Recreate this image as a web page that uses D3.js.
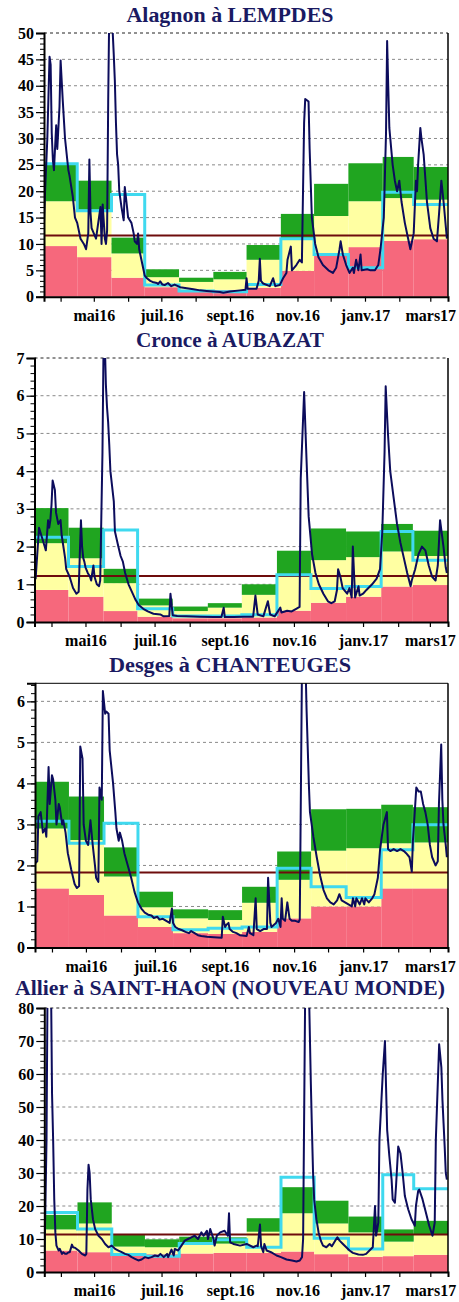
<!DOCTYPE html>
<html><head><meta charset="utf-8">
<script src="https://cdn.jsdelivr.net/npm/d3@7"></script>
<style>body{margin:0;background:#fff}svg{display:block}</style>
</head><body>
<svg id="c" width="459" height="1302"></svg>
<script>
// ---------- DATA ----------
const startDate = "2016-04-01";
const endDate = "2017-04-01";
const months = ["2016-04","2016-05","2016-06","2016-07","2016-08","2016-09","2016-10","2016-11","2016-12","2017-01","2017-02","2017-03"];
const xTickDates = ["2016-04-16","2016-05-16","2016-06-16","2016-07-16","2016-08-16","2016-09-16","2016-10-16","2016-11-16","2016-12-16","2017-01-16","2017-02-16","2017-03-16"];
const xTickLabels = ["","mai16","","juil.16","","sept.16","","nov.16","","janv.17","","mars17"];

const stationNames = ["Alagnon à LEMPDES","Cronce à AUBAZAT","Desges à CHANTEUGES","Allier à SAINT-HAON (NOUVEAU MONDE)"];

// Monthly reference bands (red top, yellow top = green bottom, green top), monthly mean (cyan), threshold
const alagnonRed    = [9.6, 7.5, 3.6, 1.8, 1.3, 1.3, 1.7, 4.9, 7.8, 9.4, 10.6, 10.9];
const alagnonYellow = [18.1, 16.5, 8.2, 3.7, 2.8, 3.3, 7.0, 11.0, 15.3, 18.1, 18.7, 18.4];
const alagnonGreen  = [25.0, 22.0, 11.2, 5.2, 3.6, 4.7, 9.8, 15.7, 21.4, 25.3, 26.5, 24.6];
const alagnonMean   = [25.2, 16.3, 19.4, 2.2, 1.1, 0.95, 2.3, 11.0, 8.0, 5.5, 19.8, 17.5];
const alagnonThreshold = 11.6;

const cronceRed    = [0.85, 0.67, 0.29, 0.14, 0.10, 0.10, 0.12, 0.30, 0.51, 0.67, 0.94, 0.98];
const cronceYellow = [2.09, 1.69, 1.03, 0.44, 0.29, 0.38, 0.72, 1.27, 1.64, 1.72, 1.87, 1.75];
const cronceGreen  = [3.02, 2.50, 1.41, 0.62, 0.41, 0.50, 1.00, 1.89, 2.48, 2.40, 2.60, 2.42];
const cronceMean   = [2.25, 1.47, 2.44, 0.35, 0.16, 0.16, 0.19, 1.25, 0.89, 0.94, 2.40, 1.64];
const cronceThreshold = 1.22;

const desgesRed    = [1.44, 1.28, 0.78, 0.50, 0.35, 0.33, 0.38, 0.71, 1.00, 1.00, 1.44, 1.44];
const desgesYellow = [2.90, 2.62, 1.73, 0.98, 0.71, 0.67, 1.09, 1.65, 2.36, 2.42, 2.54, 2.56];
const desgesGreen  = [4.04, 3.68, 2.44, 1.36, 0.93, 0.91, 1.48, 2.34, 3.37, 3.38, 3.48, 3.42];
const desgesMean   = [3.08, 2.54, 3.03, 0.75, 0.43, 0.47, 0.50, 1.93, 1.48, 1.22, 2.38, 2.99];
const desgesThreshold = 1.83;

const allierRed    = [6.5, 6.0, 5.6, 5.4, 5.6, 5.8, 5.8, 6.2, 5.4, 4.6, 4.8, 5.2];
const allierYellow = [12.9, 14.7, 7.7, 7.5, 9.0, 8.6, 12.2, 17.8, 14.7, 12.0, 9.2, 11.5];
const allierGreen  = [17.3, 21.1, 11.2, 9.9, 10.7, 10.5, 16.3, 25.7, 21.6, 16.8, 12.9, 15.5];
const allierMean   = [18.0, 13.0, 5.3, 4.8, 8.6, 9.8, 7.5, 28.7, 10.2, 7.0, 29.5, 25.2];
const allierThreshold = 11.4;

// Daily flow: [days since 1 April 2016, m3/s]
const alagnonDaily = [[0,14],[1,20],[3,30],[5,45.5],[6,44],[7,31],[8,26],[9,24],[11,32.5],[12,28],[14,36],[15,44.8],[17,37],[19,30],[22,24],[23,23],[26,19],[28,15],[30,14],[33,11],[36,10],[38,9],[40,12],[41,26],[42,16],[43,13],[45,12],[47,11],[49,14],[51,17],[52,10],[53,17.5],[55,11],[56,10],[57,12.5],[58,37],[59,55],[61,55],[63,46],[64,41],[65,33],[66,27],[67,25],[68,20],[70,17],[72,14.5],[73,20.8],[75,17],[76,15],[79,14],[81,12],[82,10.5],[84,10],[85,12],[86,9],[88,7],[90,5],[91,4],[93,3.5],[96,3],[98,2.8],[102,2.6],[103,2.4],[105,2.9],[107,2.3],[109,2.2],[112,2.6],[115,2.0],[118,2.3],[123,1.8],[129,1.6],[135,1.4],[141,1.2],[147,1.1],[153,1.0],[159,0.9],[162,0.75],[168,1.0],[177,1.2],[182,1.3],[183,3.5],[184,1.5],[192,1.5],[194,3],[195,7.2],[196,3],[198,2.5],[204,2.0],[207,3.5],[209,2.0],[213,2.2],[216,3.5],[219,4.5],[220,7],[223,9.5],[224,5],[228,6.0],[231,7.0],[233,6.5],[235,33],[236,37.5],[239,37],[240,28],[242,15],[245,10],[248,7.5],[252,6.0],[257,5.0],[261,4.5],[264,5.5],[267,9.0],[268,10.5],[270,8],[273,6],[276,4.5],[279,5.5],[280,4.5],[282,7],[284,5],[286,8],[287,5],[292,5.2],[295,5],[299,5],[302,6],[304,9],[307,15],[309,31],[310,48.5],[311,40],[312,32],[315,25],[317,22],[319,20],[321,22],[323,18],[326,14],[329,11],[331,9],[334,12],[336,22],[337,20],[338,25],[340,32],[341,30],[343,27],[346,18],[349,13],[352,11],[355,10.5],[357,16],[359,22],[361,18],[364,11]];

const cronceDaily = [[0,1.3],[1,1.15],[4,2.5],[6,2.3],[9,2.0],[10,1.9],[12,2.7],[13,2.5],[14,2.7],[15,3.1],[16,3.75],[18,3.5],[19,2.9],[21,2.6],[23,2.7],[24,2.3],[27,1.7],[28,1.4],[31,1.2],[34,0.9],[37,0.75],[39,0.8],[40,1.8],[41,2.7],[42,2.0],[43,1.7],[44,1.6],[45,1.45],[47,1.3],[49,1.2],[50,1.1],[52,1.5],[53,1.2],[55,1.0],[57,0.95],[58,1.1],[59,2.8],[60,4.5],[61,7.5],[62,7.5],[63,6.3],[64,5.7],[65,5.3],[66,4.7],[67,4.0],[70,3.2],[71,2.4],[74,2.0],[76,1.75],[78,1.6],[80,1.3],[83,1.0],[86,0.8],[89,0.6],[92,0.45],[96,0.35],[100,0.28],[105,0.22],[111,0.2],[114,0.15],[119,0.16],[120,0.75],[122,0.18],[126,0.16],[134,0.15],[146,0.14],[158,0.13],[165,0.13],[167,0.38],[168,0.13],[176,0.13],[184,0.14],[193,0.14],[195,0.7],[197,0.2],[202,0.15],[206,0.55],[208,0.2],[212,0.15],[217,0.38],[218,0.25],[223,0.3],[227,0.28],[231,0.35],[234,0.4],[235,3.8],[238,6.1],[240,4.4],[242,2.8],[245,1.8],[248,1.3],[251,1.0],[255,0.75],[259,0.55],[262,0.5],[265,0.55],[267,0.85],[268,1.4],[270,1.2],[272,0.9],[276,0.75],[278,0.9],[280,0.65],[281,2.0],[283,0.65],[286,0.95],[287,0.7],[290,0.75],[293,0.85],[298,1.0],[302,1.15],[305,1.4],[307,2.4],[309,4.5],[310,6.25],[312,5.0],[314,4.0],[317,3.3],[320,2.6],[323,2.1],[326,1.7],[329,1.3],[332,0.95],[333,1.1],[336,1.4],[339,1.8],[342,2.0],[345,1.9],[348,1.5],[351,1.2],[354,1.1],[356,1.5],[358,2.7],[361,2.0],[363,1.45],[364,1.3]];

const desgesDaily = [[0,2.05],[2,2.1],[3,3.2],[5,3.3],[7,2.8],[9,2.9],[10,2.7],[12,4.4],[13,3.5],[15,4.2],[16,4.1],[18,3.6],[19,3.0],[21,3.5],[22,3.4],[24,3.0],[25,3.1],[27,2.8],[29,2.3],[32,1.9],[35,1.55],[37,1.45],[39,1.5],[40,4.9],[42,4.6],[43,3.0],[45,2.6],[47,2.5],[49,3.1],[51,2.5],[53,2.0],[54,1.7],[56,1.6],[57,3.9],[59,3.6],[60,6.25],[62,5.7],[63,5.75],[65,5.7],[66,4.8],[69,4.0],[71,3.3],[72,2.9],[74,2.6],[75,2.8],[77,2.6],[79,2.3],[82,2.0],[85,1.7],[88,1.35],[91,1.1],[94,0.95],[97,0.85],[100,0.8],[103,0.78],[105,0.72],[108,0.75],[110,0.68],[113,0.7],[116,0.65],[119,0.6],[121,0.95],[122,0.6],[124,0.5],[127,0.45],[130,0.42],[133,0.38],[136,0.35],[138,0.4],[141,0.35],[144,0.3],[147,0.28],[152,0.26],[158,0.25],[165,0.24],[166,0.75],[168,0.5],[169,0.55],[171,0.6],[172,0.45],[175,0.38],[178,0.35],[181,0.3],[187,0.28],[189,0.5],[190,0.35],[193,0.3],[195,1.2],[196,0.45],[199,0.4],[202,0.45],[205,0.45],[206,1.7],[208,0.6],[209,0.5],[211,0.55],[213,0.6],[215,0.7],[217,0.5],[218,1.2],[219,0.7],[221,0.65],[223,1.1],[225,0.7],[227,0.65],[230,0.65],[233,0.62],[234,0.68],[236,7.0],[239,7.0],[240,5.8],[242,4.0],[243,3.3],[246,2.7],[249,2.2],[252,1.75],[255,1.4],[258,1.2],[261,1.1],[264,1.05],[267,1.15],[269,1.3],[271,1.15],[274,1.1],[277,1.05],[280,1.0],[281,1.2],[283,1.0],[284,1.2],[287,1.05],[289,1.2],[291,1.05],[292,1.2],[295,1.1],[298,1.2],[300,1.3],[303,1.7],[305,2.4],[308,3.0],[311,3.3],[312,2.4],[314,2.35],[317,2.4],[320,2.35],[323,2.4],[326,2.35],[328,2.3],[331,2.2],[333,1.85],[334,2.6],[337,3.9],[339,3.8],[341,3.8],[343,3.5],[345,3.3],[347,3.0],[349,2.5],[351,2.2],[354,2.0],[356,2.1],[357,3.5],[359,4.95],[360,3.6],[361,3.0],[363,2.5],[364,2.2]];

const allierDaily = [[0,3],[1,20],[2,40],[3,90],[6,90],[7,54],[8,40],[9,22],[10,12],[11,8],[13,6.5],[14,7],[16,5.5],[17,6.0],[19,5.5],[20,5.5],[22,6],[23,6],[25,8.3],[26,7.5],[28,7.3],[31,6.5],[34,5.5],[37,5.0],[38,5.5],[39,25],[40,32.5],[41,30],[42,22],[44,16],[46,13],[49,11],[52,10],[55,8.5],[58,7.5],[61,8],[64,7],[67,6.5],[70,6],[73,5.5],[76,5.2],[79,4.5],[82,4],[85,3.5],[88,3.8],[91,4.5],[94,4.2],[97,4.5],[100,5],[103,4.8],[105,5.5],[108,4.5],[111,5.5],[112,4.5],[115,6.8],[117,5],[118,7],[121,6.5],[124,8],[127,9.5],[130,10],[133,10.5],[136,11],[139,10],[142,12],[144,11],[147,12.5],[148,10],[150,13],[151,12],[153,10],[154,8],[156,11],[159,12],[163,12.5],[166,11],[167,17.8],[168,9],[171,8.5],[177,8],[183,8.5],[189,7.5],[192,8],[193,7.8],[195,14.4],[196,7.8],[198,6],[199,8.5],[201,6.5],[205,6],[210,5],[214,4.5],[219,3.8],[224,3.5],[228,3.2],[231,3.5],[233,4.5],[234,10],[235,50],[236,90],[239,90],[241,57],[242,43],[243,30],[244,22],[246,16],[248,12],[250,9.5],[252,8],[255,7.5],[258,8.5],[260,7.8],[263,9.5],[265,10.5],[267,9.5],[270,8.5],[273,7.5],[276,6.5],[279,5.8],[284,5.3],[288,5.2],[291,5.5],[294,6.5],[297,7.5],[299,20],[300,11],[302,15],[303,40],[306,60],[308,70],[309,56],[310,43],[312,35],[314,28],[315,22],[317,21],[318,26],[320,38],[322,36],[324,30],[326,23],[329,19],[332,16],[335,14],[336,20],[338,24.5],[339,25],[342,22],[345,18],[348,14],[351,11],[353,15],[354,40],[357,69],[359,62],[360,52],[361,45],[362,38],[363,30],[364,28]];

// ---------- LAYOUT ----------
const FONT = "'Liberation Serif','Times New Roman',Times,serif";
const C = {red:"#f6687c", yellow:"#ffffa2", green:"#20a520", cyan:"#3fd9ef", navy:"#0c0c5c", thr:"#6e0c0c", title:"#1a1a62"};

const panels = [
  {name:stationNames[0], red:alagnonRed, yellow:alagnonYellow, green:alagnonGreen, mean:alagnonMean, thr:alagnonThreshold, daily:alagnonDaily,
   left:44, right:448, top:33, bottom:296.7, ymax:50, major:5, minor:1, titleY:22, titleW:207, topSolid:false},
  {name:stationNames[1], red:cronceRed, yellow:cronceYellow, green:cronceGreen, mean:cronceMean, thr:cronceThreshold, daily:cronceDaily,
   left:34.5, right:448, top:358, bottom:622, ymax:7, major:1, minor:0.2, titleY:346.5, titleW:188, topSolid:false},
  {name:stationNames[2], red:desgesRed, yellow:desgesYellow, green:desgesGreen, mean:desgesMean, thr:desgesThreshold, daily:desgesDaily,
   left:35, right:448, top:683.3, bottom:947.5, ymax:6.44, major:1, minor:0.2, titleY:671.5, titleW:242, topSolid:true},
  {name:stationNames[3], red:allierRed, yellow:allierYellow, green:allierGreen, mean:allierMean, thr:allierThreshold, daily:allierDaily,
   left:44.3, right:448, top:1008, bottom:1272, ymax:80, major:10, minor:2, titleY:995, titleW:430, topSolid:false}
];

const parse = d3.timeParse("%Y-%m-%d");
const parseM = d3.timeParse("%Y-%m");
const T0 = parse(startDate), T1 = parse(endDate);
const monthDates = months.map(parseM);
const tickDates = xTickDates.map(parse);

const svg = d3.select("#c");
svg.append("rect").attr("width",459).attr("height",1302).attr("fill","#fff");

panels.forEach((p, i) => {
  const x = d3.scaleTime().domain([T0, T1]).range([p.left, p.right]);
  const y = d3.scaleLinear().domain([0, p.ymax]).range([p.bottom, p.top]);
  const g = svg.append("g");

  const cid = "clip" + i;
  svg.append("clipPath").attr("id", cid).append("rect")
    .attr("x", p.left).attr("y", p.top).attr("width", p.right - p.left).attr("height", p.bottom - p.top);

  // title
  g.append("text").attr("x", 230).attr("y", p.titleY).attr("text-anchor","middle")
    .attr("font-family", FONT).attr("font-weight","bold").attr("font-size", 20)
    .attr("fill", C.title).attr("textLength", p.titleW).attr("lengthAdjust","spacingAndGlyphs")
    .text(p.name);

  // gridlines
  const majors = d3.range(0, p.ymax + 1e-9, p.major).filter(v => v > 0);
  g.append("g").selectAll("line").data(majors).join("line")
    .attr("x1", p.left).attr("x2", p.right)
    .attr("y1", d => y(d)).attr("y2", d => y(d))
    .attr("stroke", d => Math.abs(d - p.ymax) < 1e-6 ? "#222" : "#8a8a8a")
    .attr("stroke-width", 1).attr("stroke-dasharray", "3,3");

  // bands
  const idx = d3.range(months.length);
  const mx0 = k => x(monthDates[k]);
  const mx1 = k => x(k + 1 < months.length ? monthDates[k + 1] : T1);
  const bands = g.append("g");
  bands.selectAll(".r").data(idx).join("rect").attr("class","r")
    .attr("x", mx0).attr("width", k => mx1(k) - mx0(k))
    .attr("y", k => y(p.red[k])).attr("height", k => y(0) - y(p.red[k])).attr("fill", C.red);
  bands.selectAll(".yl").data(idx).join("rect").attr("class","yl")
    .attr("x", mx0).attr("width", k => mx1(k) - mx0(k))
    .attr("y", k => y(p.yellow[k])).attr("height", k => y(p.red[k]) - y(p.yellow[k])).attr("fill", C.yellow);
  bands.selectAll(".gr").data(idx).join("rect").attr("class","gr")
    .attr("x", mx0).attr("width", k => mx1(k) - mx0(k))
    .attr("y", k => y(p.green[k])).attr("height", k => y(p.yellow[k]) - y(p.green[k])).attr("fill", C.green);

  // threshold
  g.append("line").attr("x1", p.left).attr("x2", p.right)
    .attr("y1", y(p.thr)).attr("y2", y(p.thr)).attr("stroke", C.thr).attr("stroke-width", 2);

  // monthly mean (cyan step)
  const stepPts = idx.map(k => [monthDates[k], p.mean[k]]).concat([[T1, p.mean[p.mean.length - 1]]]);
  g.append("path").datum(stepPts)
    .attr("clip-path", `url(#${cid})`)
    .attr("d", d3.line().x(d => x(d[0])).y(d => y(d[1])).curve(d3.curveStepAfter))
    .attr("fill","none").attr("stroke", C.cyan).attr("stroke-width", 3);

  // daily flow
  g.append("path").datum(p.daily)
    .attr("clip-path", `url(#${cid})`)
    .attr("d", d3.line().x(d => x(d3.timeDay.offset(T0, d[0]))).y(d => y(d[1])))
    .attr("fill","none").attr("stroke", C.navy).attr("stroke-width", 2).attr("stroke-linejoin","round");

  // frame
  g.append("line").attr("x1", p.right).attr("x2", p.right).attr("y1", p.top).attr("y2", p.bottom)
    .attr("stroke","#000").attr("stroke-width",1.5);
  if (p.topSolid) {
    g.append("line").attr("x1", p.left).attr("x2", p.right).attr("y1", p.top).attr("y2", p.top)
      .attr("stroke","#000").attr("stroke-width",1);
  }

  // y axis minor
  const minors = d3.range(0, p.ymax + 1e-9, p.minor);
  g.append("g").attr("transform", `translate(${p.left},0)`)
    .call(d3.axisLeft(y).tickValues(minors).tickSize(4).tickFormat(""))
    .call(s => s.select(".domain").remove())
    .call(s => s.selectAll("line").attr("stroke","#000").attr("stroke-width",1));
  // y axis major
  const majAll = d3.range(0, p.ymax + 1e-9, p.major);
  g.append("g").attr("transform", `translate(${p.left},0)`)
    .call(d3.axisLeft(y).tickValues(majAll).tickSize(8).tickPadding(2).tickFormat(d3.format("d")))
    .call(s => s.select(".domain").attr("stroke","#000").attr("stroke-width",2))
    .call(s => s.selectAll("line").attr("stroke","#000").attr("stroke-width",1.2))
    .call(s => s.selectAll("text").attr("font-family", FONT).attr("font-weight","bold").attr("font-size",16).attr("fill","#000"));

  // x axis
  g.append("g").attr("transform", `translate(0,${p.bottom})`)
    .call(d3.axisBottom(x).tickValues(tickDates).tickSizeOuter(0).tickSize(5)
      .tickFormat((d, k) => xTickLabels[k]))
    .call(s => s.select(".domain").attr("stroke","#000").attr("stroke-width",2))
    .call(s => s.selectAll("line").attr("stroke","#000").attr("stroke-width",1.2))
    .call(s => s.selectAll("text").attr("font-family", FONT).attr("font-weight","bold").attr("font-size",16)
      .attr("fill","#000").attr("y", 24).attr("dy", 0));
});
</script>
</body></html>
